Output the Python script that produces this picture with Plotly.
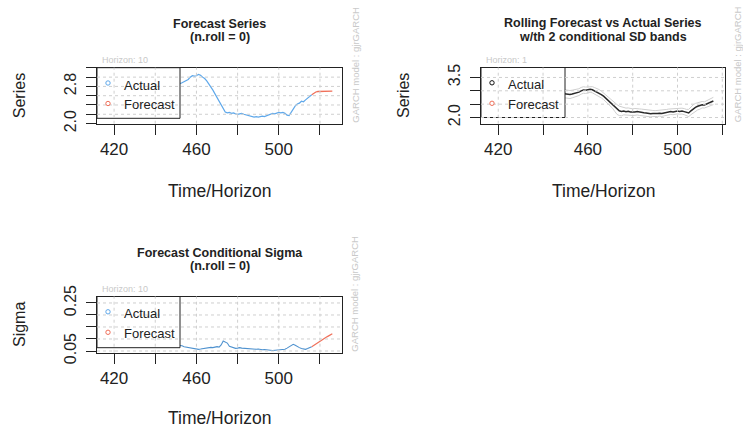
import plotly.graph_objects as go

W, H = 743, 428

# ---------------- data ----------------
t_actual = list(range(417, 517))
series_actual = [
    # 417-451 (mostly behind the legend)
    2.62, 2.66, 2.71, 2.69, 2.74, 2.78, 2.76, 2.81, 2.85, 2.83,
    2.88, 2.93, 2.97, 3.02, 3.08, 3.12, 3.15, 3.11, 3.06, 3.01,
    2.97, 2.93, 2.95, 2.99, 2.96, 2.92, 2.88, 2.85, 2.89, 2.92,
    2.92, 2.91, 2.90, 2.88, 2.86,
    # 452-516
    2.86, 2.88, 2.90, 2.92, 2.95, 3.00, 3.03, 3.02, 3.03, 3.06,
    3.04, 3.00, 2.97, 2.92, 2.86, 2.80, 2.72, 2.64, 2.56, 2.48,
    2.38, 2.30, 2.25, 2.23, 2.24, 2.22, 2.23, 2.21, 2.20, 2.21,
    2.22, 2.20, 2.19, 2.18, 2.17, 2.15, 2.14, 2.15, 2.14, 2.15,
    2.16, 2.15, 2.17, 2.19, 2.21, 2.22, 2.21, 2.23, 2.24, 2.23,
    2.24, 2.22, 2.18, 2.17, 2.25, 2.32, 2.38, 2.42, 2.44, 2.48,
    2.47, 2.51, 2.55, 2.58, 2.62,
]
t_forecast = list(range(517, 527))
series_forecast = [2.65, 2.68, 2.69, 2.69, 2.70, 2.70, 2.70, 2.70, 2.70, 2.70]

sigma_actual = [
    # 417-451 (behind the legend)
    0.150, 0.175, 0.210, 0.245, 0.268, 0.240, 0.215, 0.190, 0.170, 0.155,
    0.140, 0.128, 0.118, 0.110, 0.104, 0.098, 0.093, 0.090, 0.088, 0.085,
    0.083, 0.081, 0.084, 0.088, 0.086, 0.083, 0.080, 0.079, 0.078, 0.080,
    0.079, 0.077, 0.076, 0.077, 0.076,
    # 452-516
    0.075, 0.072, 0.068, 0.066, 0.064, 0.063, 0.061, 0.060, 0.058, 0.057,
    0.058, 0.060, 0.062, 0.064, 0.063, 0.065, 0.064, 0.066, 0.068, 0.066,
    0.075, 0.092, 0.088, 0.083, 0.070, 0.066, 0.064, 0.061, 0.062, 0.064,
    0.062, 0.061, 0.062, 0.060, 0.061, 0.059, 0.058, 0.057, 0.058, 0.056,
    0.055, 0.056, 0.054, 0.055, 0.053, 0.052, 0.053, 0.051, 0.052, 0.053,
    0.055, 0.057, 0.062, 0.068, 0.072, 0.078, 0.074, 0.068, 0.064, 0.060,
    0.058, 0.057, 0.060, 0.064, 0.068,
]
sigma_forecast = [0.074, 0.080, 0.086, 0.091, 0.097, 0.102, 0.107, 0.112, 0.117, 0.122]

x_ticks = [420, 440, 460, 480, 500, 520]
x_ticktext = ["420", "", "460", "", "500", ""]
series_yticks = [2.0, 2.2, 2.4, 2.6, 2.8, 3.0, 3.2]
series_yticktext = ["2.0", "", "", "", "2.8", "", ""]
roll_yticks = [2.0, 2.5, 3.0, 3.5]
roll_yticktext = ["2.0", "", "", "3.5"]
sigma_yticks = [0.05, 0.10, 0.15, 0.20, 0.25]
sigma_yticktext = ["0.05", "", "", "", "0.25"]

# ---------------- styles ----------------
FONT = "Liberation Sans, Arial, sans-serif"
BLUE = "#5fa8ea"
BLUE2 = "#4f92cf"
RED = "#f0705a"
GRID = "#cfcfcf"
FAINT = "#c9c9c9"
TXT = "#222222"

def px(x):
    return x / W

def py(y):
    return 1 - y / H

# panel boxes in pixels: (left, right, top, bottom)
P1 = (97, 342, 67.7, 123.7)
P2 = (481, 725, 67.5, 123.7)
P3 = (97, 342, 296.5, 352.7)

fig = go.Figure()

# panel 1: forecast series
fig.add_trace(go.Scatter(x=t_actual, y=series_actual, mode="lines",
                         line=dict(color=BLUE, width=1.2), xaxis="x", yaxis="y"))
fig.add_trace(go.Scatter(x=[t_actual[-1]] + t_forecast,
                         y=[series_actual[-1]] + series_forecast, mode="lines",
                         line=dict(color=RED, width=1.3), xaxis="x", yaxis="y"))

# panel 2: rolling forecast with 2 SD bands
upper = [s + 2 * v for s, v in zip(series_actual, sigma_actual)]
lower = [s - 2 * v for s, v in zip(series_actual, sigma_actual)]
fig.add_trace(go.Scatter(x=t_actual, y=upper, mode="lines",
                         line=dict(color="#cfcfcf", width=1), xaxis="x2", yaxis="y2"))
fig.add_trace(go.Scatter(x=t_actual, y=lower, mode="lines",
                         line=dict(color="#cfcfcf", width=1), xaxis="x2", yaxis="y2"))
fig.add_trace(go.Scatter(x=t_actual, y=series_actual, mode="lines",
                         line=dict(color="#2a2a2a", width=1.5), xaxis="x2", yaxis="y2"))

# panel 3: forecast sigma
fig.add_trace(go.Scatter(x=t_actual, y=sigma_actual, mode="lines",
                         line=dict(color=BLUE2, width=1.1), xaxis="x3", yaxis="y3"))
fig.add_trace(go.Scatter(x=[t_actual[-1]] + t_forecast,
                         y=[sigma_actual[-1]] + sigma_forecast, mode="lines",
                         line=dict(color=RED, width=1.2), xaxis="x3", yaxis="y3"))

def xaxis(box, rng):
    return dict(domain=[px(box[0]), px(box[1])], range=rng, automargin=False,
                tickmode="array", tickvals=x_ticks, ticktext=x_ticktext,
                ticks="outside", ticklen=10, tickwidth=1, tickcolor="#222",
                showline=True, mirror=True, linecolor="#222", linewidth=1,
                showgrid=False, zeroline=False, ticklabelstandoff=0,
                tickfont=dict(family=FONT, size=17, color=TXT))

def yaxis(box, rng, vals, text, anchor):
    return dict(domain=[py(box[3]), py(box[2])], range=rng, anchor=anchor, automargin=False,
                tickmode="array", tickvals=vals, ticktext=text, tickangle=-90,
                ticks="outside", ticklen=10, tickwidth=1, tickcolor="#222",
                showline=True, mirror=True, linecolor="#222", linewidth=1,
                showgrid=False, zeroline=False, ticklabelstandoff=4,
                tickfont=dict(family=FONT, size=16, color=TXT))

fig.update_layout(
    template="none",
    width=W, height=H, margin=dict(l=0, r=0, t=0, b=0, pad=0, autoexpand=False),
    paper_bgcolor="white", plot_bgcolor="white", showlegend=False,
    xaxis=dict(xaxis(P1, [411.7, 530.7]), anchor="y"),
    yaxis=yaxis(P1, [1.997, 3.203], series_yticks, series_yticktext, "x"),
    xaxis2=dict(xaxis(P2, [412.3, 521.2]), anchor="y2"),
    yaxis2=yaxis(P2, [1.768, 3.873], roll_yticks, roll_yticktext, "x2"),
    xaxis3=dict(xaxis(P3, [411.7, 530.7]), anchor="y3"),
    yaxis3=yaxis(P3, [0.0429, 0.277], sigma_yticks, sigma_yticktext, "x3"),
)

shapes = []
annotations = []

panels = [
    dict(box=P1, xa="x", ya="y", ykey="yaxis", yticks=series_yticks, legend_right=180,
         legend_bottom=118.3, actual_col=BLUE, title=("Forecast Series", "(n.roll = 0)"),
         ylab="Series", horizon="Horizon: 10", garch_x=356, xlab_y=190.7, tgap=13),
    dict(box=P2, xa="x2", ya="y2", ykey="yaxis2", yticks=roll_yticks, legend_right=565,
         legend_bottom=117.5, actual_col="#111111",
         title=("Rolling Forecast vs Actual Series", "w/th 2 conditional SD bands"),
         ylab="Series", horizon="Horizon: 1", garch_x=737.5, xlab_y=190.7, tgap=14.5),
    dict(box=P3, xa="x3", ya="y3", ykey="yaxis3", yticks=sigma_yticks, legend_right=180,
         legend_bottom=347.7, actual_col=BLUE, title=("Forecast Conditional Sigma", "(n.roll = 0)"),
         ylab="Sigma", horizon="Horizon: 10", garch_x=355, xlab_y=418, tgap=13),
]

for p in panels:
    l, r, t, b = p["box"]
    cx = (l + r) / 2
    # legend box (white, covers series)
    shapes.append(dict(type="rect", xref="paper", yref="paper", layer="above",
                       x0=px(l), x1=px(p["legend_right"]), y0=py(p["legend_bottom"]), y1=py(t),
                       fillcolor="white", line=dict(color="#222", width=1)))
    # dotted grid drawn over legend
    for xv in x_ticks:
        shapes.append(dict(type="line", xref=p["xa"], yref=p["ya"] + " domain", layer="above",
                           x0=xv, x1=xv, y0=0, y1=1,
                           line=dict(color=GRID, width=1, dash="3px,3px")))
    rng = fig.layout[p["ykey"]].range
    span = rng[1] - rng[0]
    for yv in p["yticks"]:
        frac = (yv - rng[0]) / span
        if frac < 0.01 or frac > 0.99:
            continue
        shapes.append(dict(type="line", xref=p["xa"] + " domain", yref=p["ya"], layer="above",
                           x0=0, x1=1, y0=yv, y1=yv,
                           line=dict(color=GRID, width=1, dash="3px,3px")))
    # legend markers
    for yy, col in ((t + 15.3, p["actual_col"]), (t + 35.8, RED)):
        shapes.append(dict(type="circle", xref="paper", yref="paper", layer="above",
                           xsizemode="pixel", ysizemode="pixel",
                           xanchor=px(l + 11), yanchor=py(yy),
                           x0=-2.2, x1=2.2, y0=-2.2, y1=2.2,
                           line=dict(color=col, width=1)))
    for yy, txt in ((t + 17.3, "Actual"), (t + 37.3, "Forecast")):
        annotations.append(dict(xref="paper", yref="paper", x=px(l + 24.5), y=py(yy),
                                text=txt, showarrow=False, xanchor="left", yanchor="middle",
                                font=dict(family=FONT, size=13, color=TXT)))
    # titles (two tight lines)
    mid = t - 37.5
    annotations.append(dict(xref="paper", yref="paper", x=px(cx), y=py(mid - p["tgap"] / 2),
                            text="<b>%s</b>" % p["title"][0], showarrow=False,
                            xanchor="center", yanchor="middle", borderpad=0,
                            font=dict(family=FONT, size=12.5, color=TXT)))
    annotations.append(dict(xref="paper", yref="paper", x=px(cx), y=py(mid + p["tgap"] / 2),
                            text="<b>%s</b>" % p["title"][1], showarrow=False,
                            xanchor="center", yanchor="middle", borderpad=0,
                            font=dict(family=FONT, size=12.5, color=TXT)))
    # axis titles
    annotations.append(dict(xref="paper", yref="paper", x=px(cx), y=py(p["xlab_y"]),
                            text="Time/Horizon", showarrow=False,
                            xanchor="center", yanchor="middle",
                            font=dict(family=FONT, size=17.5, color=TXT)))
    annotations.append(dict(xref="paper", yref="paper", x=px(l - 77.5), y=py(t + 28),
                            text=p["ylab"], showarrow=False, textangle=-90,
                            xanchor="center", yanchor="middle",
                            font=dict(family=FONT, size=16, color=TXT)))
    # horizon note
    annotations.append(dict(xref="paper", yref="paper", x=px(l + 3), y=py(t - 7.5),
                            text=p["horizon"], showarrow=False,
                            xanchor="left", yanchor="middle",
                            font=dict(family=FONT, size=9, color=FAINT)))
    # model note
    annotations.append(dict(xref="paper", yref="paper", x=px(p["garch_x"]), y=py(b - 59),
                            text="GARCH model : gjrGARCH", showarrow=False, textangle=-90,
                            xanchor="center", yanchor="middle",
                            font=dict(family=FONT, size=9.5, color=FAINT)))

fig.update_layout(shapes=shapes, annotations=annotations)
fig.write_html("out.html", config={"displayModeBar": False},
               post_script="document.body.style.margin='0px';document.body.style.padding='0px';")
